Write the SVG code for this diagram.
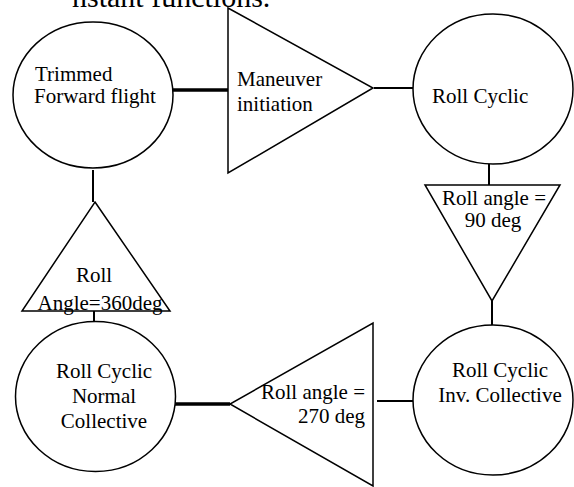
<svg xmlns="http://www.w3.org/2000/svg" width="574" height="487" viewBox="0 0 574 487">
<style>
.shape{fill:#fff;stroke:#000;stroke-width:1.5}
.conn{stroke:#000;fill:none;stroke-width:2}
.thick{stroke-width:3.5}
text{font-family:"Liberation Serif","Times New Roman",serif;font-size:21px;fill:#000}
.top{font-size:30px}
</style>
<rect width="574" height="487" fill="#fff"/>
<text class="top" x="72" y="7">nstant functions.</text>
<g id="connectors">
<line class="conn thick" x1="173" y1="90" x2="228" y2="90"/>
<line class="conn" x1="374" y1="88" x2="413" y2="88"/>
<line class="conn" x1="489" y1="164" x2="489" y2="185"/>
<line class="conn" x1="492" y1="301" x2="492" y2="325"/>
<line class="conn" x1="377" y1="401" x2="413" y2="401"/>
<line class="conn thick" x1="175" y1="404" x2="230" y2="404"/>
<line class="conn" x1="94" y1="311" x2="94" y2="321"/>
<line class="conn" x1="93" y1="170" x2="93" y2="202"/>
</g>
<g id="trimmed">
<ellipse class="shape" cx="93" cy="95" rx="80" ry="73"/>
<text x="35" y="81">Trimmed</text>
<text x="34" y="103">Forward flight</text>
</g>
<g id="maneuver">
<polygon class="shape" points="228,8 373,88 228,173"/>
<text x="237" y="86">Maneuver</text>
<text x="237" y="111">initiation</text>
</g>
<g id="rollcyclic">
<ellipse class="shape" cx="493" cy="89" rx="80" ry="75"/>
<text x="432" y="103">Roll Cyclic</text>
</g>
<g id="angle90">
<polygon class="shape" points="425,185 560,185 492,301"/>
<text x="494" y="205" text-anchor="middle">Roll angle =</text>
<text x="493" y="227" text-anchor="middle">90 deg</text>
</g>
<g id="inverted">
<ellipse class="shape" cx="493" cy="400" rx="80" ry="75"/>
<text x="500" y="377" text-anchor="middle">Roll Cyclic</text>
<text x="500" y="402" text-anchor="middle">Inv. Collective</text>
</g>
<g id="angle270">
<polygon class="shape" points="373,323 373,486 230,404"/>
<text x="365" y="399" text-anchor="end">Roll angle =</text>
<text x="365" y="423" text-anchor="end">270 deg</text>
</g>
<g id="normal">
<ellipse class="shape" cx="95.5" cy="396.5" rx="80" ry="75"/>
<text x="104" y="378" text-anchor="middle">Roll Cyclic</text>
<text x="104" y="403" text-anchor="middle">Normal</text>
<text x="104" y="428" text-anchor="middle">Collective</text>
</g>
<g id="angle360">
<polygon class="shape" points="95,202 170,311 22,311"/>
<text x="94" y="282" text-anchor="middle">Roll</text>
<text x="100" y="310" text-anchor="middle">Angle=360deg</text>
</g>
</svg>
